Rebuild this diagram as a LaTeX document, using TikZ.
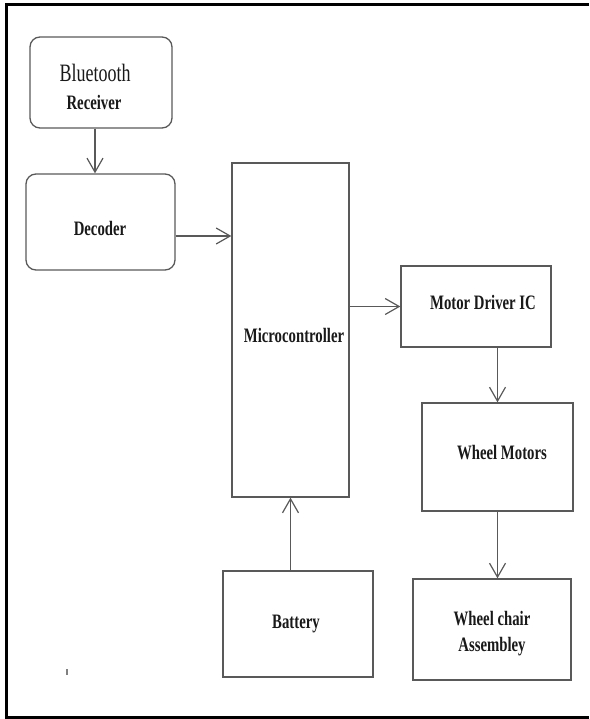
\documentclass[tikz,border=0pt]{standalone}
\usepackage{fontspec}
\setmainfont[FakeStretch=0.72]{Liberation Serif}
\usetikzlibrary{arrows.meta}

\newcommand{\boxfont}{\fontsize{20.5}{26}\selectfont\bfseries}
\newcommand{\bigfont}{\fontsize{25}{27}\selectfont\mdseries}

\begin{document}
\begin{tikzpicture}[x=1pt,y=-1pt,
    blk/.style={draw=black!65,line width=1.3pt,inner sep=0pt},
    rblk/.style={blk,rounded corners=10pt},
    lbl/.style={inner sep=0pt,align=center,font=\boxfont,text=black!90},
    arr/.style={draw=black!65,line width=1.2pt,-{Straight Barb[length=14pt,width=16pt]}}]
  \useasboundingbox (0,0) rectangle (589,719);
  % frame (open on the right)
  \draw[line width=2.6pt] (589,4.6) -- (6.2,4.6) -- (6.2,717.5) -- (589,717.5);
  % blocks
  \node[rblk,minimum width=142pt,minimum height=91pt] (bt) at (101,82.5) {};
  \node[rblk,minimum width=149pt,minimum height=96pt] (dec) at (100.5,222) {};
  \node[blk,minimum width=117pt,minimum height=334pt] (micro) at (290.5,330) {};
  \node[blk,minimum width=150pt,minimum height=81pt] (md) at (476,306.5) {};
  \node[blk,minimum width=151pt,minimum height=108pt] (wm) at (497.5,457) {};
  \node[blk,minimum width=150pt,minimum height=106pt] (bat) at (298,624) {};
  \node[blk,minimum width=158pt,minimum height=101pt] (wca) at (492,629.5) {};
  % texts
  \node[lbl,font=\bigfont] (btT) at (95,73) {Bluetooth};
  \node[lbl] (rxT) at (94,102) {Receiver};
  \node[lbl] (decT) at (100,228) {Decoder};
  \node[lbl] (microT) at (294,335) {Microcontroller};
  \node[lbl] (mdT) at (483,302) {Motor Driver IC};
  \node[lbl] (wmT) at (502,453) {Wheel Motors};
  \node[lbl] (batT) at (296,624) {Battery};
  \node[lbl] (wcaT) at (492,634) {Wheel chair\\Assembley};
  % connectors
  \coordinate (b1) at ([xshift=-6pt]bt.south);
  \draw[arr] (b1) -- (b1 |- dec.north);
  \coordinate (d1) at ([yshift=-14pt]dec.east);
  \draw[arr] (d1) -- (d1 -| micro.west);
  \draw[arr] (md.west -| micro.east) -- (md.west);
  \draw[arr] (wm.north |- md.south) -- (wm.north);
  \draw[arr] (wm.south) -- (wm.south |- wca.north);
  \draw[arr] (bat.north -| micro.south) -- (micro.south);
  % stray tick
  \draw[black!50,line width=1.5pt] (67,669) -- (67,675);
\end{tikzpicture}
\end{document}
